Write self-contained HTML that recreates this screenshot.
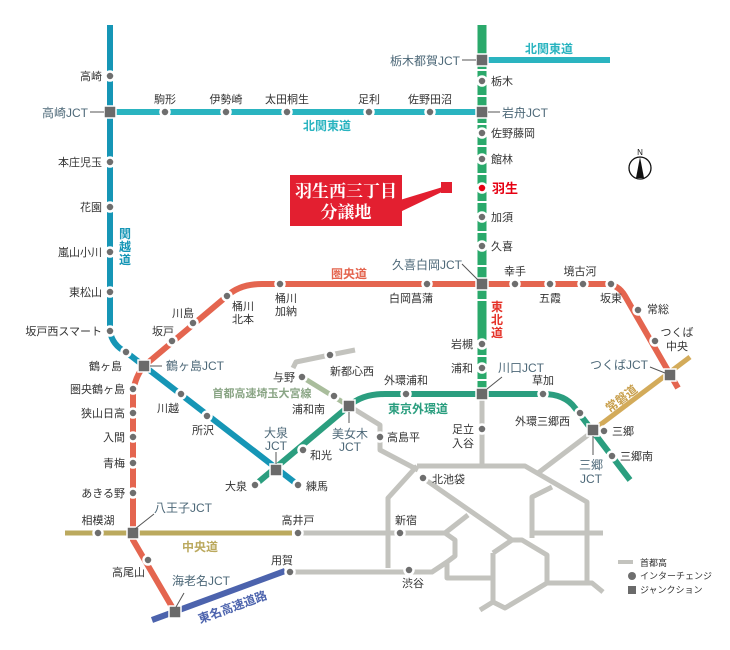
<!DOCTYPE html>
<html><head><meta charset="utf-8"><style>
html,body{margin:0;padding:0;background:#fff;}
svg{display:block;font-family:"Liberation Sans","Noto Sans CJK JP",sans-serif;}
.s{font-size:11px;fill:#333;}
.j{font-size:12px;fill:#4d6878;}
.r{font-size:12px;font-weight:bold;}
.d{fill:#6e6e6e;stroke:#fff;stroke-width:2.5;}
.q{fill:#6a6a6a;stroke:#fff;stroke-width:1.5;}
.ld{stroke:#555;stroke-width:1;fill:none;}
</style></head><body>
<svg width="730" height="650" viewBox="0 0 730 650" xmlns="http://www.w3.org/2000/svg">
<g stroke="#c3c3be" stroke-width="5" fill="none" stroke-linejoin="round">
<path d="M293,368 L296,362 L330,355 L355,350"/>
<path d="M349,406 L380,425 L380,450 L418,470"/>
<path d="M482,394 L482,466"/>
<path d="M417,466 L525,466 L587,502 L587,583"/>
<path d="M592,432 L538,473"/>
<path d="M417,466 L388,498 L388,568"/>
<path d="M423,478 L512,540 L522,540 L547,555 L547,583 L592,583 L603,592"/>
<path d="M493,553 L512,540"/>
<path d="M493,553 L493,602 L505,608 L547,583"/>
<path d="M493,602 L480,610"/>
<path d="M532,538 L532,497 L552,487"/>
<path d="M532,533 L603,533"/>
<path d="M298,533 L445,533 L455,540 L455,556 L447,562 L447,578 L493,578"/>
<path d="M445,533 L468,515"/>
<path d="M290,572 L432,572 L447,562"/>
</g>
<path d="M302,377 L349,406" stroke="#a9bd9c" stroke-width="5" fill="none"/>
<path d="M65,533 L292,533" stroke="#bba95e" stroke-width="5"/>
<path d="M152,620 L285,571" stroke="#4c63ad" stroke-width="6"/>
<path d="M592,431 L690,357" stroke="#d3ab5a" stroke-width="5"/>
<path d="M255,485 L349,406 Q362,394 385,394 L543,394 Q565,394 575,408 L630,480" stroke="#2b9e7f" stroke-width="6" fill="none"/>
<path d="M110,25 L110,331 Q112,345 126,352 L298,485" stroke="#1696b6" stroke-width="6" fill="none"/>
<path d="M110,112 L482,112" stroke="#2ab4c0" stroke-width="6"/>
<path d="M482,60 L610,60" stroke="#2ab4c0" stroke-width="6"/>
<path d="M175,612 L133,540 L133,395 Q134,378 144,366 L227,296 Q240,284 262,284 L605,284 Q618,284 625,296 L678,388" stroke="#e4654f" stroke-width="6" fill="none"/>
<path d="M482,25 L482,394" stroke="#2aa96b" stroke-width="9"/>
<g stroke="#fff" stroke-width="2">
<path d="M472,70 L492,70 M472,96 L492,96 M472,124 L492,124 M472,146 L492,146 M472,174 L492,174 M472,202 L492,202 M472,232 L492,232 M472,266 L492,266 M472,300 L492,300 M472,356 L492,356 M472,380 L492,380"/>
</g>
<g class="d">
<circle cx="110" cy="76" r="4.5"/><circle cx="110" cy="162" r="4.5"/><circle cx="110" cy="207" r="4.5"/><circle cx="110" cy="252" r="4.5"/><circle cx="110" cy="292" r="4.5"/><circle cx="110" cy="331" r="4.5"/>
<circle cx="126" cy="352" r="4.5"/><circle cx="181" cy="394" r="4.5"/><circle cx="207" cy="416" r="4.5"/><circle cx="298" cy="485" r="4.5"/>
<circle cx="165" cy="112" r="4.5"/><circle cx="226" cy="112" r="4.5"/><circle cx="287" cy="112" r="4.5"/><circle cx="369" cy="112" r="4.5"/><circle cx="430" cy="112" r="4.5"/>
<circle cx="482" cy="81" r="4.5"/><circle cx="482" cy="133" r="4.5"/><circle cx="482" cy="159" r="4.5"/><circle cx="482" cy="217" r="4.5"/><circle cx="482" cy="246" r="4.5"/><circle cx="482" cy="344" r="4.5"/><circle cx="482" cy="368" r="4.5"/><circle cx="482" cy="429" r="4.5"/>
<circle cx="172" cy="341" r="4.5"/><circle cx="193" cy="323" r="4.5"/><circle cx="227" cy="296" r="4.5"/><circle cx="280" cy="284" r="4.5"/><circle cx="427" cy="284" r="4.5"/><circle cx="515" cy="284" r="4.5"/><circle cx="550" cy="284" r="4.5"/><circle cx="583" cy="284" r="4.5"/><circle cx="611" cy="284" r="4.5"/><circle cx="638" cy="310" r="4.5"/><circle cx="655" cy="341" r="4.5"/>
<circle cx="133" cy="389" r="4.5"/><circle cx="133" cy="413" r="4.5"/><circle cx="133" cy="437" r="4.5"/><circle cx="133" cy="463" r="4.5"/><circle cx="133" cy="493" r="4.5"/><circle cx="148" cy="560" r="4.5"/>
<circle cx="98" cy="533" r="4.5"/><circle cx="298" cy="533" r="4.5"/><circle cx="290" cy="572" r="4.5"/>
<circle cx="255" cy="485" r="4.5"/><circle cx="303" cy="450" r="4.5"/><circle cx="406" cy="394" r="4.5"/><circle cx="543" cy="394" r="4.5"/><circle cx="580" cy="413" r="4.5"/><circle cx="604" cy="431" r="4.5"/><circle cx="612" cy="456" r="4.5"/>
<circle cx="302" cy="377" r="4.5"/><circle cx="334" cy="396" r="4.5"/><circle cx="330" cy="355" r="4.5"/><circle cx="380" cy="437" r="4.5"/>
<circle cx="423" cy="478" r="4.5"/><circle cx="400" cy="533" r="4.5"/><circle cx="409" cy="570" r="4.5"/>
</g>
<circle cx="482" cy="188" r="4.5" fill="#e60012" stroke="#fff" stroke-width="2.5"/>
<g class="q">
<rect x="104" y="106" width="12" height="12"/><rect x="476" y="54" width="12" height="12"/><rect x="476" y="106" width="12" height="12"/><rect x="476" y="278" width="12" height="12"/>
<rect x="138" y="360" width="12" height="12"/><rect x="476" y="388" width="12" height="12"/><rect x="127" y="527" width="12" height="12"/><rect x="169" y="606" width="12" height="12"/>
<rect x="270" y="464" width="12" height="12"/><rect x="343" y="400" width="12" height="12"/><rect x="587" y="424" width="12" height="12"/><rect x="664" y="369" width="12" height="12"/>
</g>
<path class="ld" d="M90,112 L104,112 M462,60 L476,60 M488,112 L500,112 M462,264 L478,280 M150,366 L162,366 M487,389 L502,377 M135,529 L154,514 M176,607 L184,593 M276,452 L276,464 M349,412 L349,423 M593,436 L593,455 M650,367 L665,373"/>
<g class="j">
<text x="88" y="117" text-anchor="end">高崎JCT</text>
<text x="460" y="65" text-anchor="end">栃木都賀JCT</text>
<text x="502" y="117">岩舟JCT</text>
<text x="462" y="269" text-anchor="end">久喜白岡JCT</text>
<text x="166" y="370">鶴ヶ島JCT</text>
<text x="498" y="372">川口JCT</text>
<text x="154" y="512">八王子JCT</text>
<text x="172" y="585">海老名JCT</text>
<text x="276" y="437" text-anchor="middle">大泉</text><text x="276" y="450" text-anchor="middle">JCT</text>
<text x="350" y="438" text-anchor="middle">美女木</text><text x="350" y="451" text-anchor="middle">JCT</text>
<text x="591" y="469" text-anchor="middle">三郷</text><text x="591" y="483" text-anchor="middle">JCT</text>
<text x="648" y="369" text-anchor="end">つくばJCT</text>
</g>
<g class="s">
<text x="102" y="80" text-anchor="end">高崎</text><text x="102" y="166" text-anchor="end">本庄児玉</text><text x="102" y="211" text-anchor="end">花園</text><text x="102" y="256" text-anchor="end">嵐山小川</text><text x="102" y="296" text-anchor="end">東松山</text><text x="102" y="335" text-anchor="end">坂戸西スマート</text>
<text x="122" y="370" text-anchor="end">鶴ヶ島</text>
<text x="165" y="103" text-anchor="middle">駒形</text><text x="226" y="103" text-anchor="middle">伊勢崎</text><text x="287" y="103" text-anchor="middle">太田桐生</text><text x="369" y="103" text-anchor="middle">足利</text><text x="430" y="103" text-anchor="middle">佐野田沼</text>
<text x="491" y="85">栃木</text><text x="491" y="137">佐野藤岡</text><text x="491" y="163">館林</text><text x="491" y="221">加須</text><text x="491" y="250">久喜</text>
<text x="183" y="317" text-anchor="middle">川島</text><text x="163" y="335" text-anchor="middle">坂戸</text>
<text x="243" y="310" text-anchor="middle">桶川</text><text x="243" y="323" text-anchor="middle">北本</text>
<text x="286" y="302" text-anchor="middle">桶川</text><text x="286" y="315" text-anchor="middle">加納</text>
<text x="411" y="302" text-anchor="middle">白岡菖蒲</text><text x="515" y="275" text-anchor="middle">幸手</text><text x="550" y="302" text-anchor="middle">五霞</text><text x="580" y="275" text-anchor="middle">境古河</text><text x="611" y="302" text-anchor="middle">坂東</text>
<text x="647" y="313">常総</text><text x="677" y="336" text-anchor="middle">つくば</text><text x="677" y="350" text-anchor="middle">中央</text>
<text x="125" y="393" text-anchor="end">圏央鶴ヶ島</text><text x="125" y="417" text-anchor="end">狭山日高</text><text x="125" y="441" text-anchor="end">入間</text><text x="125" y="467" text-anchor="end">青梅</text><text x="125" y="497" text-anchor="end">あきる野</text>
<text x="168" y="412" text-anchor="middle">川越</text><text x="203" y="434" text-anchor="middle">所沢</text>
<text x="247" y="490" text-anchor="end">大泉</text><text x="306" y="490">練馬</text><text x="310" y="459">和光</text>
<text x="295" y="381" text-anchor="end">与野</text><text x="352" y="375" text-anchor="middle">新都心西</text><text x="325" y="413" text-anchor="end">浦和南</text><text x="387" y="441">高島平</text>
<text x="473" y="348" text-anchor="end">岩槻</text><text x="473" y="372" text-anchor="end">浦和</text>
<text x="406" y="384" text-anchor="middle">外環浦和</text><text x="543" y="384" text-anchor="middle">草加</text><text x="570" y="425" text-anchor="end">外環三郷西</text><text x="612" y="435">三郷</text><text x="620" y="460">三郷南</text>
<text x="474" y="433" text-anchor="end">足立</text><text x="474" y="447" text-anchor="end">入谷</text>
<text x="432" y="483">北池袋</text><text x="406" y="524" text-anchor="middle">新宿</text><text x="413" y="587" text-anchor="middle">渋谷</text>
<text x="298" y="524" text-anchor="middle">高井戸</text><text x="282" y="564" text-anchor="middle">用賀</text><text x="98" y="524" text-anchor="middle">相模湖</text><text x="145" y="576" text-anchor="end">高尾山</text>
</g>
<text x="492" y="193" font-size="13" font-weight="bold" fill="#e60012">羽生</text>
<g class="r">
<text x="327" y="130" text-anchor="middle" fill="#2ab4c0">北関東道</text>
<text x="549" y="53" text-anchor="middle" fill="#2ab4c0">北関東道</text>
<text x="125" y="238" text-anchor="middle" fill="#1696b6">関</text><text x="125" y="251" text-anchor="middle" fill="#1696b6">越</text><text x="125" y="264" text-anchor="middle" fill="#1696b6">道</text>
<text x="349" y="278" text-anchor="middle" fill="#e4654f">圏央道</text>
<text x="497" y="311" text-anchor="middle" fill="#e5332a">東</text><text x="497" y="324" text-anchor="middle" fill="#e5332a">北</text><text x="497" y="337" text-anchor="middle" fill="#e5332a">道</text>
<text x="418" y="413" text-anchor="middle" fill="#2b9e7f">東京外環道</text>
<text x="262" y="397" text-anchor="middle" fill="#8aa585" font-size="11">首都高速埼玉大宮線</text>
<text x="200" y="551" text-anchor="middle" fill="#bba95e">中央道</text>
<text x="234" y="611" text-anchor="middle" fill="#4c63ad" transform="rotate(-20 234 611)">東名高速道路</text>
<text x="624" y="402" text-anchor="middle" fill="#c9a04e" transform="rotate(-37 624 402)">常磐道</text>
</g>
<path d="M400,200 L446,186 L446,190 L400,212 Z" fill="#e31f30"/>
<rect x="290" y="175" width="112" height="51" fill="#e31f30"/>
<rect x="441" y="182" width="11" height="11" fill="#e31f30"/>
<text x="346" y="197" text-anchor="middle" font-family="'Liberation Serif','Noto Serif CJK SC',serif" font-size="17" font-weight="bold" fill="#fff">羽生西三丁目</text>
<text x="346" y="218" text-anchor="middle" font-family="'Liberation Serif','Noto Serif CJK SC',serif" font-size="17" font-weight="bold" fill="#fff">分譲地</text>
<text x="640" y="155" text-anchor="middle" font-size="8" fill="#111">N</text>
<circle cx="640" cy="168" r="11" fill="#fff" stroke="#111" stroke-width="1.3"/>
<path d="M640,157 L644,178 L636,178 Z" fill="#111"/>
<rect x="618" y="560" width="15" height="4" fill="#c3c3be"/>
<text x="640" y="566" font-size="9" fill="#333">首都高</text>
<circle cx="632" cy="576" r="4" fill="#6e6e6e"/>
<text x="640" y="579" font-size="9" fill="#333">インターチェンジ</text>
<rect x="628" y="586" width="8" height="8" fill="#6a6a6a"/>
<text x="640" y="593" font-size="9" fill="#333">ジャンクション</text>
</svg>
</body></html>
